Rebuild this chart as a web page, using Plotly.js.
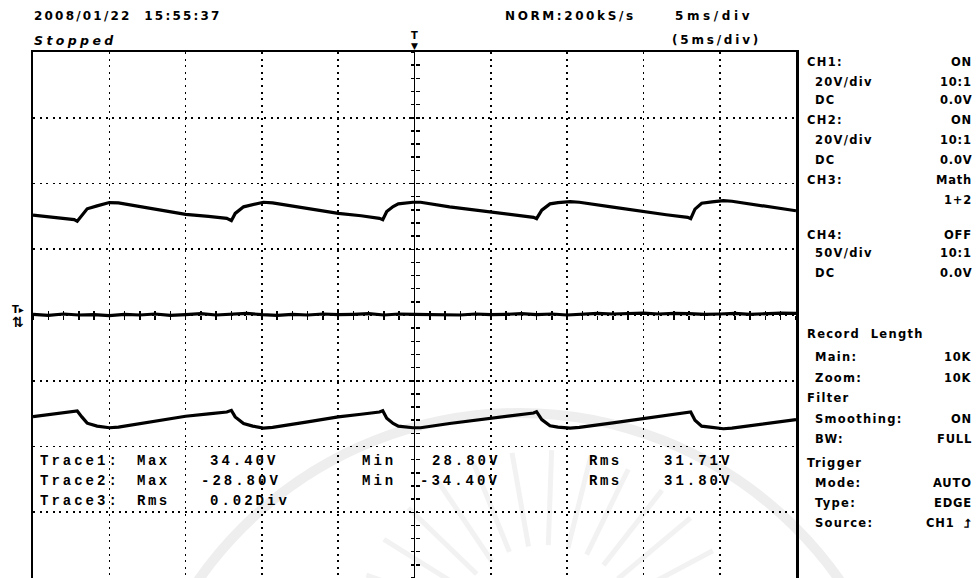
<!DOCTYPE html>
<html>
<head>
<meta charset="utf-8">
<script src="https://cdn.plot.ly/plotly-3.0.1.min.js"></script>
<style>html,body{margin:0;padding:0;background:#fff;}#chart{width:977px;height:578px;}</style>
</head>
<body>
<div id="chart"></div>
<script>
// ---- Data (time in ms, voltage in V) ----
const trace1Time = [-25, -23.5, -22.3, -22.1, -21.8, -21.45, -20.8, -20.0, -19.4, -17.3, -15.0, -13.5, -12.3, -12.0, -11.75, -11.2, -10.6, -9.9, -9.3, -7.0, -5.0, -3.5, -2.3, -2.08, -1.82, -1.4, -1.06, -0.1, 0.4, 2.3, 4.95, 6.5, 7.8, 8.0, 8.34, 8.88, 9.4, 10.2, 10.8, 13.0, 15.0, 16.5, 17.9, 18.1, 18.38, 18.82, 19.5, 20.24, 20.8, 22.64, 25];
const trace1Volts = [30.4, 29.5, 29.0, 28.5, 30.4, 32.3, 33.2, 34.2, 34.1, 32.5, 30.6, 30.0, 29.4, 28.7, 30.9, 32.9, 33.6, 34.3, 34.1, 32.4, 30.9, 30.2, 29.4, 29.0, 31.5, 33.0, 33.8, 34.3, 34.3, 32.9, 31.4, 30.5, 29.7, 29.3, 31.9, 33.8, 34.2, 34.5, 34.3, 32.8, 31.4, 30.5, 29.7, 29.3, 32.2, 34.0, 34.4, 34.8, 34.6, 33.3, 31.7];

const trace2Time = [-25, -23.5, -22.3, -22.1, -21.8, -21.45, -20.8, -20.0, -19.4, -17.3, -15.0, -13.5, -12.3, -12.0, -11.75, -11.2, -10.6, -9.9, -9.3, -7.0, -5.0, -3.5, -2.3, -2.08, -1.82, -1.4, -1.06, -0.1, 0.4, 2.3, 4.95, 6.5, 7.8, 8.0, 8.34, 8.88, 9.4, 10.2, 10.8, 13.0, 15.0, 16.5, 17.9, 18.1, 18.38, 18.82, 19.5, 20.24, 20.8, 22.64, 25];
const trace2Volts = [-30.9, -30.0, -29.4, -29.2, -31.0, -32.9, -33.8, -34.3, -34.1, -32.5, -30.8, -30.1, -29.5, -29.0, -31.0, -33.0, -33.8, -34.4, -34.2, -32.5, -31.0, -30.2, -29.5, -29.1, -31.4, -33.0, -33.8, -34.3, -34.3, -33.0, -31.5, -30.6, -29.8, -29.4, -31.8, -33.7, -34.1, -34.4, -34.2, -32.8, -31.5, -30.6, -29.8, -29.5, -32.0, -33.8, -34.2, -34.6, -34.4, -33.2, -31.8];

const trace3Time = [-25, -24, -23, -22, -21, -20, -19, -18, -17, -16, -15, -14, -13, -12, -11, -10, -9, -8, -7, -6, -5, -4, -3, -2, -1, 0, 1, 2, 3, 4, 5, 6, 7, 8, 9, 10, 11, 12, 13, 14, 15, 16, 17, 18, 19, 20, 21, 22, 23, 24, 25];
const trace3Volts = [0.2, -0.1, 0.3, 0.0, 0.1, -0.2, 0.2, 0.0, 0.3, -0.1, 0.1, 0.4, 0.0, 0.2, 0.5, 0.1, -0.1, 0.2, 0.0, 0.3, 0.1, 0.2, 0.4, 0.0, 0.3, 0.2, 0.1, 0.2, 0.0, 0.3, 0.1, 0.2, 0.4, 0.1, 0.3, 0.0, 0.2, 0.5, 0.3, 0.4, 0.6, 0.3, 0.5, 0.4, 0.2, 0.3, 0.5, 0.2, 0.4, 0.6, 0.5];

const headerDate = "2008/01/22  15:55:37";
const headerStatus = "Stopped";
const headerRate = "NORM:200kS/s";
const headerTimebase = "5ms/div";
const headerZoomTimebase = "(5ms/div)";

const panelLeft = ["CH1:", " 20V/div", " DC", "CH2:", " 20V/div", " DC", "CH3:", "", "CH4:", " 50V/div", " DC",
                   "Record  Length", " Main:", " Zoom:", "Filter", " Smoothing:", " BW:", "Trigger", " Mode:", " Type:", " Source:"];
const panelRight = ["ON", "10:1", "0.0V", "ON", "10:1", "0.0V", "Math", "1+2", "OFF", "10:1", "0.0V",
                    "", "10K", "10K", "", "ON", "FULL", "", "AUTO", "EDGE", "CH1  ⮥"];

const measNames = ["Trace1:", "Trace2:", "Trace3:"];
const measA = ["Max", "Max", "Rms"];
const measAVal = ["34.40V", "-28.80V", "0.02Div"];
const measB = ["Min", "Min", ""];
const measBVal = ["28.80V", "-34.40V", ""];
const measC = ["Rms", "Rms", ""];
const measCVal = ["31.71V", "31.80V", ""];

// ---- Geometry (pixels) ----
const L = 33, T = 52, PW = 763, PH = 526;
const fx = x => (x - L) / PW;
const fy = y => 1 - (y - T) / PH;

const ann = [];
function A(text, x, y, o) {
  o = o || {};
  ann.push({
    xref: 'paper', yref: 'paper', x: fx(x), y: fy(y), text: text, showarrow: false,
    xanchor: o.xa || 'left', yanchor: 'middle',
    font: { family: o.family || 'DejaVu Sans', size: o.size || 11, color: '#000', weight: o.weight || 'bold', style: o.style || 'normal' }
  });
}
const sp = (t, ls) => '<span style="letter-spacing:' + ls + 'px">' + t + '</span>';

// header
A(sp(headerDate, 2.2), 32, 16, { size: 12 });
A(sp(headerStatus, 3.4), 32, 40, { size: 12.5, style: 'italic' });
A(sp(headerRate, 2.6), 503, 16, { size: 12 });
A(sp(headerTimebase, 3.6), 673, 16, { size: 12 });
A(sp(headerZoomTimebase, 2.8), 670, 40, { size: 12 });

// right panel
const panelY = [62, 82, 100, 120, 140, 160, 180, 200, 235, 253, 273, 334, 357, 378, 398, 419, 439, 463, 483, 503, 523];
for (let i = 0; i < panelLeft.length; i++) {
  const t = panelLeft[i];
  if (t.trim()) A(sp(t.trim(), 1.3), t.startsWith(' ') ? 813 : 805, panelY[i], { size: 11.5 });
  if (panelRight[i]) A(sp(panelRight[i], 0.8), 974, panelY[i], { size: 11.5, xa: 'right' });
}

// measurement block
const measY = [461, 481, 501];
for (let i = 0; i < 3; i++) {
  const f = { family: 'Liberation Mono', size: 14 };
  A(sp(measNames[i], 3), 38, measY[i], f);
  A(sp(measA[i], 2.5), 135, measY[i], f);
  A(sp(measAVal[i], 3), i === 1 ? 199 : 208, measY[i], f);
  if (measB[i]) A(sp(measB[i], 3), 360, measY[i], f);
  if (measBVal[i]) A(sp(measBVal[i], 3), i === 1 ? 418 : 430, measY[i], f);
  if (measC[i]) A(sp(measC[i], 2.5), 587, measY[i], f);
  if (measCVal[i]) A(sp(measCVal[i], 3), 662, measY[i], f);
}

// markers
A('T', 414, 36, { size: 10, xa: 'center' });
A('▼', 414, 46, { size: 9, xa: 'center' });
A('T▸', 18, 309, { size: 10, xa: 'center' });
A('⇅', 18, 322, { size: 14, xa: 'center' });

// faint watermark (decorative)
const shapes = [];
const cx = 519, cy = 804, r = 391;
shapes.push({ type: 'circle', xref: 'paper', yref: 'paper', x0: fx(cx - r), x1: fx(cx + r), y0: fy(cy + r), y1: fy(cy - r),
  line: { color: '#eeeeee', width: 10 }, layer: 'below' });
const rayAngles = [200, 212, 224, 236, 248, 260, 272, 284, 296, 308, 320, 332];
for (const a of rayAngles) {
  const rad = a * Math.PI / 180, ox = 545, oy = 640;
  shapes.push({ type: 'line', xref: 'paper', yref: 'paper',
    x0: fx(ox + 95 * Math.cos(rad)), y0: fy(oy + 95 * Math.sin(rad)),
    x1: fx(ox + 190 * Math.cos(rad)), y1: fy(oy + 190 * Math.sin(rad)),
    line: { color: '#f2f2f2', width: 5 }, layer: 'below' });
}

const lineStyle = { color: '#000', width: 3.2 };
const data = [
  { x: trace1Time, y: trace1Volts, mode: 'lines', line: lineStyle, hoverinfo: 'skip', name: 'Trace1' },
  { x: trace2Time, y: trace2Volts, mode: 'lines', line: lineStyle, hoverinfo: 'skip', name: 'Trace2', xaxis: 'x3', yaxis: 'y3' },
  { x: trace3Time, y: trace3Volts, mode: 'lines', line: lineStyle, hoverinfo: 'skip', name: 'Trace3', xaxis: 'x2', yaxis: 'y2' }
];

const gridDash = '2px,4.6px';
const baseX = { range: [-25, 25], dtick: 5, showticklabels: false, ticks: '', showgrid: true, gridcolor: '#000', gridwidth: 1.6, griddash: gridDash,
  zeroline: true, zerolinecolor: '#000', zerolinewidth: 1.6, showline: true, mirror: true, linecolor: '#000', linewidth: 2.5, fixedrange: true };
const baseY = { range: [-80, 80], dtick: 20, showticklabels: false, ticks: '', showgrid: true, gridcolor: '#000', gridwidth: 1.6, griddash: gridDash,
  zeroline: false, showline: true, mirror: true, linecolor: '#000', linewidth: 2.5, fixedrange: true };
const centerX = side => ({ overlaying: 'x', anchor: 'free', position: 0.5, range: [-25, 25], dtick: 1, ticks: side, ticklen: 4, tickwidth: 1.5,
  tickcolor: '#000', showticklabels: false, showgrid: false, zeroline: false, showline: false, fixedrange: true });
const centerY = side => ({ overlaying: 'y', anchor: 'free', position: 0.5, range: [-80, 80], dtick: 4, ticks: side, ticklen: 4, tickwidth: 1.5,
  tickcolor: '#000', showticklabels: false, showgrid: false, zeroline: false, showline: false, fixedrange: true });

const layout = {
  width: 977, height: 578,
  margin: { l: L, r: 977 - L - PW, t: T, b: 0, pad: 0 },
  paper_bgcolor: '#fff', plot_bgcolor: 'rgba(0,0,0,0)',
  showlegend: false,
  xaxis: baseX, yaxis: baseY,
  xaxis2: centerX('outside'), xaxis3: centerX('inside'),
  yaxis2: centerY('outside'), yaxis3: centerY('inside'),
  annotations: ann, shapes: shapes
};

Plotly.newPlot('chart', data, layout, { staticPlot: true, displayModeBar: false });
</script>
</body>
</html>
